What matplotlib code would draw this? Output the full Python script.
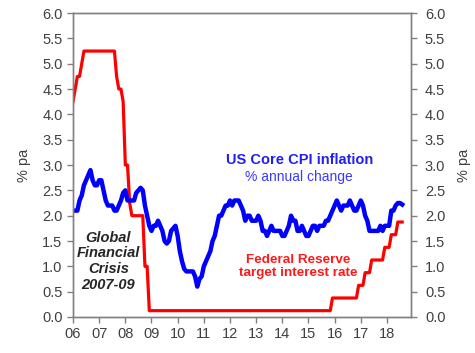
import matplotlib.pyplot as plt
import numpy as np

plt.rcParams['font.family'] = ['Liberation Sans', 'DejaVu Sans']

# monthly data, Jan 2006 .. Aug 2018
core_cpi = [
    2.1, 2.1, 2.1, 2.3, 2.4, 2.6, 2.7, 2.8, 2.9, 2.7, 2.6, 2.6,   # 2006
    2.7, 2.7, 2.5, 2.3, 2.2, 2.2, 2.2, 2.1, 2.1, 2.2, 2.3, 2.45,  # 2007
    2.5, 2.3, 2.3, 2.3, 2.3, 2.45, 2.5, 2.55, 2.5, 2.2, 2.0, 1.8,  # 2008
    1.7, 1.8, 1.8, 1.9, 1.8, 1.7, 1.5, 1.45, 1.5, 1.7, 1.75, 1.8,  # 2009
    1.6, 1.3, 1.1, 0.95, 0.9, 0.9, 0.9, 0.9, 0.8, 0.6, 0.75, 0.8,  # 2010
    1.0, 1.1, 1.2, 1.3, 1.5, 1.6, 1.8, 2.0, 2.0, 2.1, 2.2, 2.2,   # 2011
    2.3, 2.2, 2.3, 2.3, 2.3, 2.2, 2.1, 1.9, 2.0, 2.0, 1.9, 1.9,   # 2012
    1.9, 2.0, 1.9, 1.7, 1.7, 1.6, 1.7, 1.8, 1.7, 1.7, 1.7, 1.7,   # 2013
    1.6, 1.6, 1.7, 1.8, 2.0, 1.9, 1.9, 1.7, 1.7, 1.8, 1.7, 1.6,   # 2014
    1.6, 1.7, 1.8, 1.8, 1.7, 1.8, 1.8, 1.8, 1.9, 1.9, 2.0, 2.1,   # 2015
    2.2, 2.3, 2.2, 2.1, 2.2, 2.2, 2.2, 2.3, 2.2, 2.1, 2.1, 2.2,   # 2016
    2.3, 2.2, 2.0, 1.9, 1.7, 1.7, 1.7, 1.7, 1.7, 1.8, 1.7, 1.8,   # 2017
    1.8, 1.8, 2.1, 2.1, 2.2, 2.25, 2.25, 2.22,                     # 2018
]
fed_rate = [
    4.25, 4.5, 4.75, 4.75, 5.0, 5.25, 5.25, 5.25, 5.25, 5.25, 5.25, 5.25,  # 2006
    5.25, 5.25, 5.25, 5.25, 5.25, 5.25, 5.25, 5.25, 4.75, 4.5, 4.5, 4.25,  # 2007
    3.0, 3.0, 2.25, 2.0, 2.0, 2.0, 2.0, 2.0, 2.0, 1.0, 1.0, 0.125,        # 2008
] + [0.125] * 12 * 6 + [                                                   # 2009-2014
    0.125, 0.125, 0.125, 0.125, 0.125, 0.125, 0.125, 0.125, 0.125, 0.125, 0.125, 0.375,  # 2015
    0.375, 0.375, 0.375, 0.375, 0.375, 0.375, 0.375, 0.375, 0.375, 0.375, 0.375, 0.625,  # 2016
    0.625, 0.625, 0.875, 0.875, 0.875, 1.125, 1.125, 1.125, 1.125, 1.125, 1.125, 1.375,  # 2017
    1.375, 1.375, 1.625, 1.625, 1.625, 1.875, 1.875, 1.875,                            # 2018
]
years = list(range(2006, 2019))
year_labels = [f'{y % 100:02d}' for y in years]

t_cpi = 2006 + np.arange(len(core_cpi)) / 12
t_fed = 2006 + np.arange(len(fed_rate)) / 12

grey = '#808080'
txt = '#404040'

fig = plt.figure(figsize=(4.75, 3.53), dpi=100)
ax = fig.add_axes([0.1537, 0.102, 0.7116, 0.861])

ax.plot(t_fed, fed_rate, color='#ff0000', lw=2.3, solid_joinstyle='round')
ax.plot(t_cpi, core_cpi, color='#0000ff', lw=3.2, solid_joinstyle='round')

ax.set_xlim(2006, 2018.92)
ax.set_ylim(0, 6)
ax.set_xticks(years)
ax.set_xticklabels(year_labels)
ax.set_yticks(np.arange(0, 6.01, 0.5))
ax.set_yticklabels([f'{v:.1f}' for v in np.arange(0, 6.01, 0.5)])

ax2 = ax.twinx()
ax2.set_ylim(0, 6)
ax2.set_yticks(np.arange(0, 6.01, 0.5))
ax2.set_yticklabels([f'{v:.1f}' for v in np.arange(0, 6.01, 0.5)])

for a in (ax, ax2):
    for s in a.spines.values():
        s.set_color(grey)
        s.set_linewidth(1.0)
    a.tick_params(axis='both', colors=grey, labelcolor=txt, labelsize=10.5,
                  length=4, width=1, direction='out')
ax2.tick_params(axis='y', pad=6)

ax.set_ylabel('% pa', fontsize=10.5, color=txt, labelpad=8)
ax2.set_ylabel('% pa', fontsize=10.5, color=txt, rotation=90, labelpad=8)

ax.text(2014.65, 3.1, 'US Core CPI inflation', color='#2020f0', fontsize=10.5,
        fontweight='bold', ha='center', va='center')
ax.text(2014.65, 2.77, '% annual change', color='#3a3aff', fontsize=10,
        ha='center', va='center')
ax.text(2014.6, 1.12, 'Federal Reserve', color='#ff1a1a', fontsize=9.7,
        fontweight='bold', ha='center', va='center')
ax.text(2014.6, 0.86, 'target interest rate', color='#ff1a1a', fontsize=9.7,
        fontweight='bold', ha='center', va='center')
ax.text(2007.35, 1.1, 'Global\nFinancial\nCrisis\n2007-09', color='#262626',
        fontsize=10.5, fontweight='bold', fontstyle='italic', ha='center',
        va='center', linespacing=1.15)

fig.savefig('out.png', dpi=100)
